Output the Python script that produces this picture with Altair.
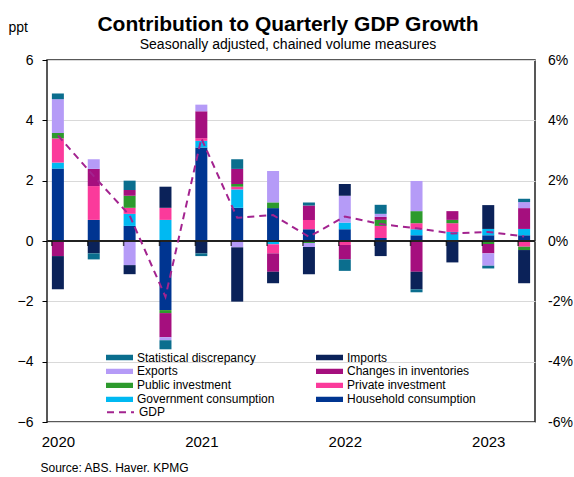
import json
import altair as alt
import pandas as pd

FONT = "Liberation Sans"

quarters = ["2020Q1", "2020Q2", "2020Q3", "2020Q4", "2021Q1", "2021Q2", "2021Q3",
            "2021Q4", "2022Q1", "2022Q2", "2022Q3", "2022Q4", "2023Q1", "2023Q2"]
year_labels = ["2020", "2021", "2022", "2023"]
year_positions = [0, 4, 8, 12]

household = [2.40, 0.70, 0.50, -2.29, 3.10, 1.10, 1.09, 0.39, 0.39, 0.10, 0.19, 0.00, 0.19, 0.19]
government = [0.20, 0.00, 0.40, 0.70, 0.22, 0.61, -0.11, 0.00, 0.22, 0.00, 0.20, 0.30, 0.21, 0.21]
private_inv = [0.80, 1.12, 0.20, 0.40, 0.09, 0.09, -0.30, 0.31, -0.13, 0.40, 0.20, 0.29, 0.00, -0.19]
public_inv = [0.18, 0.00, 0.40, -0.10, 0.00, 0.09, 0.19, -0.07, 0.00, 0.20, 0.40, 0.11, -0.10, -0.11]
inventories = [-0.50, 0.57, 0.19, -0.80, 0.89, 0.50, -0.61, 0.48, -0.48, 0.10, -1.02, 0.29, -0.31, 0.69]
exports = [1.12, 0.32, -0.80, -0.10, 0.22, -0.21, 1.04, -0.13, 0.89, 0.10, 1.00, 0.00, -0.41, 0.20]
imports = [-1.10, -0.41, -0.30, 0.70, -0.41, -1.80, -0.38, -0.90, 0.39, -0.50, -0.58, -0.71, 0.79, -1.10]
stat_disc = [0.19, -0.20, 0.31, -0.30, -0.09, 0.32, 0.00, 0.10, -0.38, 0.30, -0.10, 0.00, -0.09, 0.11]
gdp = [3.50, 2.15, 0.85, -1.85, 3.40, 0.77, 0.86, 0.14, 0.81, 0.56, 0.42, 0.25, 0.30, 0.15]

# stacking order (closest to zero first)
series_names = ["Household consumption", "Government consumption", "Private investment",
                "Public investment", "Changes in inventories", "Exports", "Imports",
                "Statistical discrepancy"]
series_values = [household, government, private_inv, public_inv, inventories, exports,
                 imports, stat_disc]

# legend is filled column by column (left column first)
legend_order = ["Statistical discrepancy", "Exports", "Public investment",
                "Government consumption", "Imports", "Changes in inventories",
                "Private investment", "Household consumption"]
legend_colors = ["#0B6E8E", "#B59BF7", "#2D9A2D", "#00B9F2", "#0B2259", "#A50F7E",
                 "#FB3A9B", "#003591"]
GDP_COLOR = "#A3238F"

rows = []
for k, (name, vals) in enumerate(zip(series_names, series_values)):
    for i, v in enumerate(vals):
        rows.append({"idx": i, "quarter": quarters[i], "series": name, "ord": k, "value": v})
bars_df = pd.DataFrame(rows)
gdp_df = pd.DataFrame({"idx": list(range(len(quarters))), "quarter": quarters,
                       "series": ["GDP"] * len(quarters), "value": gdp})
q_df = pd.DataFrame({"idx": list(range(len(quarters)))})

x_enc = alt.X(
    "idx:Q",
    scale=alt.Scale(domain=[-0.164, 13.164], nice=False, zero=False),
    axis=alt.Axis(
        values=year_positions,
        labelExpr=json.dumps(year_labels) + "[datum.value / 4]",
        ticks=False, tickSize=0, domain=False, grid=False, labelFlush=False,
        labelFontSize=15, labelPadding=12, labelColor="black", labelFont=FONT,
        title="Source: ABS. Haver. KPMG", titleX=-7, titleY=49, titleAlign="left",
        titleBaseline="alphabetic", titleFontSize=12, titleFontWeight="normal",
        titleFont=FONT, titleColor="black",
    ),
)

y_scale = alt.Scale(domain=[-6, 6], nice=False)
y_left = alt.Axis(
    values=list(range(-6, 7, 2)), grid=True, gridColor="#D9D9D9", gridWidth=1,
    domain=False, ticks=True, tickSize=5, tickColor="black", tickWidth=1,
    labelFontSize=14, labelPadding=9, labelColor="black", labelFont=FONT,
    title="ppt", titleAngle=0, titleX=-39, titleY=-29, titleAlign="left",
    titleBaseline="alphabetic", titleFontSize=14, titleFontWeight="normal",
    titleFont=FONT, titleColor="black",
)
y_right = alt.Axis(
    orient="right", values=list(range(-6, 7, 2)), labelExpr="datum.value + '%'",
    grid=False, domain=False, ticks=False, tickSize=0, labelPadding=12.5,
    labelFontSize=14, labelColor="black", labelFont=FONT, title=None,
)

BAR_SYMBOL = "M-1,-0.2H1V0.2H-1Z"
bar_legend = alt.Legend(
    orient="none", legendX=59, legendY=291, columns=2, columnPadding=41, rowPadding=1,
    symbolType=BAR_SYMBOL, symbolSize=729, symbolStrokeWidth=0, gridAlign="each",
    clipHeight=12.7, labelFont=FONT, labelFontSize=12, labelColor="black",
    labelOffset=4, title=None, padding=0, symbolOpacity=1,
)
gdp_legend = alt.Legend(
    orient="none", legendX=59, legendY=291 + 4 * 13.7, symbolType="stroke",
    symbolSize=729, symbolStrokeWidth=2, symbolStrokeColor=GDP_COLOR,
    clipHeight=12.7, labelFont=FONT, labelFontSize=12, labelColor="black",
    labelOffset=4, title=None, padding=0,
)

bars = alt.Chart(bars_df).mark_bar(size=12).encode(
    x=x_enc,
    y=alt.Y("value:Q", stack="zero", scale=y_scale, axis=y_left),
    color=alt.Color("series:N", scale=alt.Scale(domain=legend_order, range=legend_colors),
                    legend=bar_legend),
    order=alt.Order("ord:Q", sort="ascending"),
)

zero = alt.Chart(q_df).mark_rule(color="#222222", strokeWidth=1.5).encode(
    y=alt.YDatum(0, scale=y_scale, axis=None),
)

ticks = alt.Chart(q_df).mark_tick(
    orient="vertical", size=5, thickness=1.5, color="black", xOffset=-6, yOffset=2.5
).encode(
    x=x_enc,
    y=alt.YDatum(0, scale=y_scale, axis=None),
)

line = alt.Chart(gdp_df).mark_line(color=GDP_COLOR, strokeWidth=2).encode(
    x=x_enc,
    y=alt.Y("value:Q", scale=y_scale, axis=y_right),
    strokeDash=alt.StrokeDash("series:N", scale=alt.Scale(domain=["GDP"], range=[[7, 5]]),
                              legend=gdp_legend),
)

chart = alt.layer(bars, zero, ticks, line).resolve_scale(y="independent").properties(
    width=488, height=362,
    padding={"left": 47, "top": 60, "right": 39, "bottom": 55},
    autosize=alt.AutoSizeParams(type="none"),
    background="white",
    title=alt.TitleParams(
        text="Contribution to Quarterly GDP Growth",
        subtitle="Seasonally adjusted, chained volume measures",
        font=FONT, fontSize=21, fontWeight="bold", color="black",
        subtitleFont=FONT, subtitleFontSize=14, subtitleColor="black",
        anchor="middle", frame="group", offset=4, subtitlePadding=3, dy=36, dx=-3,
    ),
).configure_view(stroke="#222222", strokeWidth=1.5)

chart.save("out.html", embed_options={"renderer": "svg", "actions": False})
